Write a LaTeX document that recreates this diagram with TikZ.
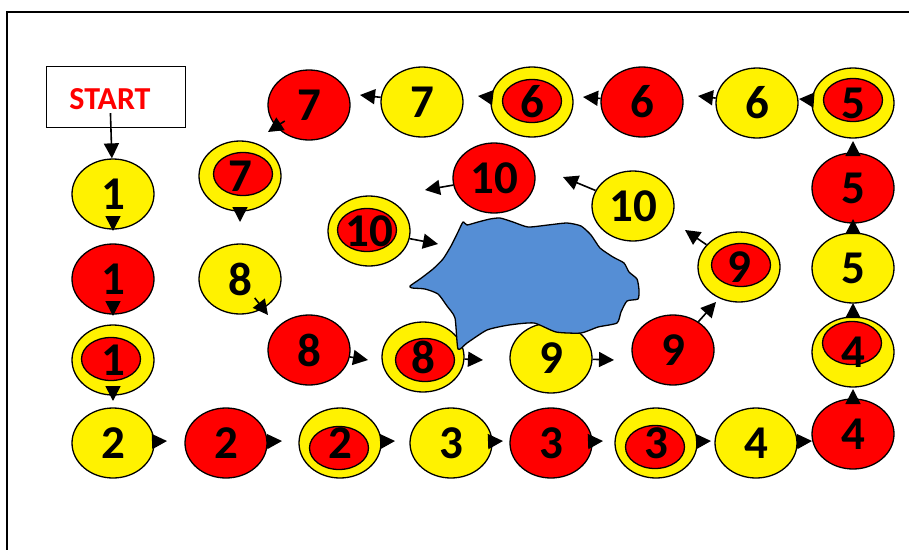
\documentclass[tikz,border=0pt]{standalone}
\usepackage{fontspec}
\setmainfont{Carlito}
\usepackage{tikz}
\usetikzlibrary{shapes.geometric,arrows.meta,calc}

\tikzset{
  ball/.style={ellipse, draw, line width=1.3pt, minimum width=82pt, minimum height=70pt,
    inner sep=0pt, font=\fontsize{47}{47}\selectfont\bfseries},
  yel/.style={ball, fill=yellow},
  rd/.style={ball, fill=red},
  dbl/.style={ball, fill=yellow, path picture={
    \draw[line width=1.3pt, fill=red] ([shift={(#1)}]path picture bounding box.center)
      ellipse [x radius=29.5pt, y radius=21.5pt];}},
  dbl/.default={0pt,0pt},
  arr/.style={line width=1.6pt, -{Triangle[length=15pt,width=15pt]}},
  lake/.style={draw, line width=1.3pt, fill=lakeblue, line join=round},
}
\definecolor{lakeblue}{RGB}{85,142,213}

\begin{document}
\begin{tikzpicture}[x=1pt,y=-1pt]
\path[use as bounding box, clip] (0,0) rectangle (909,549);
\draw[line width=2pt] (7,12) rectangle (930,570);

% start
\node[draw, line width=1.3pt, minimum width=139pt, minimum height=61pt] (start) at (116,97) {};
\node[text=red, font=\fontsize{32}{32}\selectfont\bfseries] (stxt) at (110,99) {START};

% left column
\node[yel] (y1) at (113,194) {1};
\node[rd] (r1) at (113,279) {1};
\node[dbl={-2pt,1pt}] (d1) at (113,360) {1};
\node[yel] (y2) at (113,443) {2};

% bottom row
\node[rd] (r2) at (226,443) {2};
\node[dbl={-1pt,-5pt}] (d2) at (340,443) {2};
\node[yel] (y3) at (451,443) {3};
\node[rd] (r3) at (551,443) {3};
\node[dbl={-1pt,-4pt}] (d3) at (656,443) {3};
\node[yel] (y4) at (756,443) {4};
\node[rd] (r4) at (853,434) {4};

% right column
\node[dbl={-1pt,9pt}] (d4) at (853,352) {4};
\node[yel] (y5) at (853,268) {5};
\node[rd] (r5) at (853,188) {5};
\node[dbl={0pt,3pt}] (d5) at (853,103) {5};

% top row
\node[yel] (y6) at (757,103) {6};
\node[rd] (r6) at (642,102) {6};
\node[dbl={0pt,1pt}] (d6) at (532,102) {6};
\node[yel] (y7) at (422,102) {7};
\node[rd] (r7) at (309,105) {7};

% inner loop
\node[dbl={3pt,2pt}] (d7) at (240,176) {7};
\node[yel] (y8) at (240,279) {8};
\node[rd] (r8) at (309,350) {8};
\node[dbl={2pt,-3pt}] (d8) at (423,357) {8};
\node[yel] (y9) at (551,358) {9};
\node[rd] (r9) at (673,350) {9};
\node[dbl={2pt,2pt}] (d9) at (739,267) {9};
\node[yel] (y10) at (633,206) {10};
\node[rd] (r10) at (494,178) {10};
\node[dbl={-2pt,1pt}] (d10) at (369,231) {10};

% the lake
\draw[lake] plot[smooth cycle, tension=0.35] coordinates {
  (410,286) (420,279) (433,269) (443,259) (451,246) (458,232) (463,222) (467,225)
  (478,222) (490,219) (500,218) (513,222) (528,227) (548,225) (567,223) (581,226)
  (591,235) (600,248) (613,257) (624,263) (629,272) (637,279) (639,290) (638,299)
  (627,301) (621,312) (617,323) (598,327) (581,333) (556,332) (534,323) (509,325)
  (487,330) (467,343) (458,349) (455,318) (447,306) (438,294) (425,289) (412,288)};

% arrow tips
\coordinate (t-r1) at (113,231);
\coordinate (t-d1) at (113,316);
\coordinate (t-y2) at (113,401);
\coordinate (t-r2) at (167,441);
\coordinate (t-d2) at (282,441);
\coordinate (t-y3) at (395,441);
\coordinate (t-r3) at (503,441);
\coordinate (t-d3) at (603,441);
\coordinate (t-y4) at (711,441);
\coordinate (t-r4) at (812,441);
\coordinate (t-d4) at (853,389);
\coordinate (t-y5) at (853,303);
\coordinate (t-r5) at (853,219);
\coordinate (t-d5) at (853,141);
\coordinate (t-y6) at (799,99);
\coordinate (t-r6) at (698,96);
\coordinate (t-d6) at (583,97);
\coordinate (t-y7) at (478,96);
\coordinate (t-r7) at (360,95);
\coordinate (t-d7) at (268,132);
\coordinate (t-y8) at (240,222);
\coordinate (t-r8) at (268,315);
\coordinate (t-d8) at (368,360);
\coordinate (t-y9) at (483,360);
\coordinate (t-r9) at (614,360);
\coordinate (t-d9) at (716,302);
\coordinate (t-y10) at (685,230);
\coordinate (t-r10) at (563,177);
\coordinate (t-d10) at (425,190);
\coordinate (t-lake) at (438,244);

% arrows
\draw[arr] (stxt) -- (y1);
\draw[arr] (y1) -- (t-r1);
\draw[arr] (r1) -- (t-d1);
\draw[arr] (d1) -- (t-y2);
\draw[arr] (y2) -- (t-r2);
\draw[arr] (r2) -- (t-d2);
\draw[arr] (d2) -- (t-y3);
\draw[arr] (y3) -- (t-r3);
\draw[arr] (r3) -- (t-d3);
\draw[arr] (d3) -- (t-y4);
\draw[arr] (y4) -- (t-r4);
\draw[arr] (r4) -- (t-d4);
\draw[arr] (d4) -- (t-y5);
\draw[arr] (y5) -- (t-r5);
\draw[arr] (r5) -- (t-d5);
\draw[arr] (d5) -- (t-y6);
\draw[arr] (y6) -- (t-r6);
\draw[arr] (r6) -- (t-d6);
\draw[arr] (d6) -- (t-y7);
\draw[arr] (y7) -- (t-r7);
\draw[arr, shorten <=29pt] (r7.center) -- (t-d7);
\draw[arr] (d7) -- (t-y8);
\draw[arr, shorten <=24pt] (y8.center) -- (t-r8);
\draw[arr] (r8) -- (t-d8);
\draw[arr] (d8) -- (t-y9);
\draw[arr] (y9) -- (t-r9);
\draw[arr] (r9) -- (t-d9);
\draw[arr] (d9) -- (t-y10);
\draw[arr] (y10) -- (t-r10);
\draw[arr] (r10) -- (t-d10);
\draw[arr] (d10) -- (t-lake);
\end{tikzpicture}
\end{document}
